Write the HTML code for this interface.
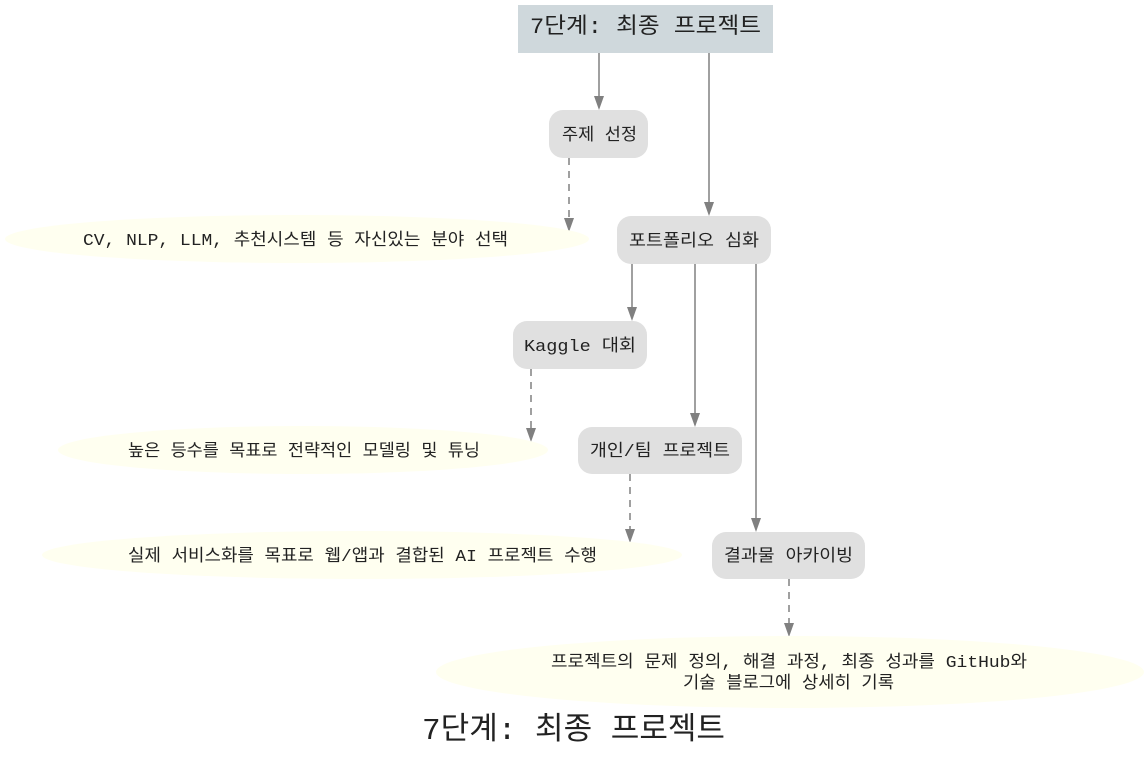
<!DOCTYPE html>
<html><head><meta charset="utf-8"><style>
body{margin:0;background:#fff;}
svg text{font-family:"Liberation Mono","Noto Sans CJK KR",monospace;fill:#222;}
</style></head><body>
<svg width="1146" height="760" viewBox="0 0 1146 760" xmlns="http://www.w3.org/2000/svg">
<g stroke="#808080" stroke-width="1.5" fill="none">
<path d="M599 53V97" /><path d="M594 96h10l-5 14z" fill="#808080" stroke="none"/>
<path d="M709 53V203"/><path d="M704 202h10l-5 14z" fill="#808080" stroke="none"/>
<path d="M569 158V219" stroke-dasharray="7,6"/><path d="M564 218h10l-5 14z" fill="#808080" stroke="none"/>
<path d="M632 264V308"/><path d="M627 307h10l-5 14z" fill="#808080" stroke="none"/>
<path d="M695 264V414"/><path d="M690 413h10l-5 14z" fill="#808080" stroke="none"/>
<path d="M756 264V519"/><path d="M751 518h10l-5 14z" fill="#808080" stroke="none"/>
<path d="M531 369V429" stroke-dasharray="7,6"/><path d="M526 428h10l-5 14z" fill="#808080" stroke="none"/>
<path d="M630 474V530" stroke-dasharray="7,6"/><path d="M625 529h10l-5 14z" fill="#808080" stroke="none"/>
<path d="M789 579V624" stroke-dasharray="7,6"/><path d="M784 623h10l-5 14z" fill="#808080" stroke="none"/>
</g>
<rect x="518" y="5" width="255" height="48" fill="#cfd8dc"/>
<text x="530" y="33" font-size="22" textLength="231" lengthAdjust="spacingAndGlyphs">7단계: 최종 프로젝트</text>
<rect x="549" y="110" width="99" height="48" rx="14" fill="#e0e0e0"/>
<text x="562" y="140" font-size="17" textLength="75" lengthAdjust="spacingAndGlyphs">주제 선정</text>
<ellipse cx="297" cy="239" rx="292" ry="24" fill="#fffff0"/>
<text x="83" y="245" font-size="17" textLength="425" lengthAdjust="spacingAndGlyphs">CV, NLP, LLM, 추천시스템 등 자신있는 분야 선택</text>
<rect x="617" y="216" width="154" height="48" rx="14" fill="#e0e0e0"/>
<text x="629" y="246" font-size="17" textLength="130" lengthAdjust="spacingAndGlyphs">포트폴리오 심화</text>
<rect x="513" y="321" width="134" height="48" rx="14" fill="#e0e0e0"/>
<text x="524" y="351" font-size="17" textLength="112" lengthAdjust="spacingAndGlyphs">Kaggle 대회</text>
<ellipse cx="303" cy="450" rx="245" ry="24" fill="#fffff0"/>
<text x="128" y="456" font-size="17" textLength="352" lengthAdjust="spacingAndGlyphs">높은 등수를 목표로 전략적인 모델링 및 튜닝</text>
<rect x="578" y="427" width="164" height="47" rx="14" fill="#e0e0e0"/>
<text x="590" y="456" font-size="17" textLength="140" lengthAdjust="spacingAndGlyphs">개인/팀 프로젝트</text>
<ellipse cx="362" cy="555" rx="320" ry="24" fill="#fffff0"/>
<text x="128" y="561" font-size="17" textLength="469" lengthAdjust="spacingAndGlyphs">실제 서비스화를 목표로 웹/앱과 결합된 AI  프로젝트 수행</text>
<rect x="712" y="532" width="153" height="47" rx="14" fill="#e0e0e0"/>
<text x="724" y="561" font-size="17" textLength="129" lengthAdjust="spacingAndGlyphs">결과물 아카이빙</text>
<ellipse cx="790" cy="672" rx="354" ry="36" fill="#fffff0"/>
<text x="551" y="667" font-size="17" textLength="476" lengthAdjust="spacingAndGlyphs">프로젝트의 문제 정의, 해결 과정, 최종 성과를 GitHub와</text>
<text x="683" y="688" font-size="17" textLength="211" lengthAdjust="spacingAndGlyphs">기술 블로그에 상세히 기록</text>
<text x="422" y="739" font-size="31" textLength="303" lengthAdjust="spacingAndGlyphs">7단계: 최종 프로젝트</text>
</svg>
</body></html>
